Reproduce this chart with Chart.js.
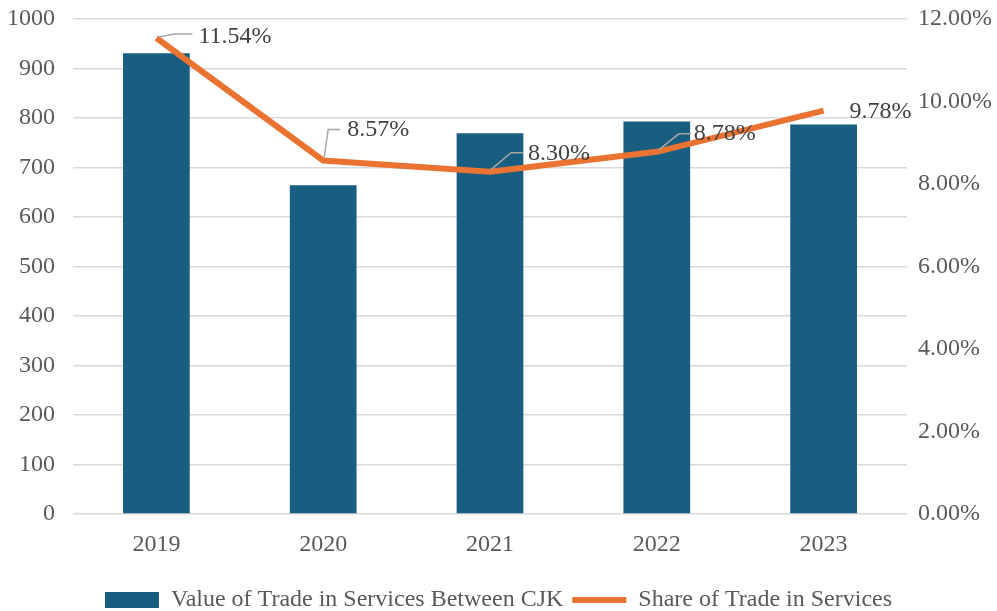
<!DOCTYPE html>
<html>
<head>
<meta charset="utf-8">
<script src="https://cdn.jsdelivr.net/npm/chart.js@4"></script>
<style>
  html, body { margin: 0; padding: 0; background: #fff; }
  #wrap { width: 997px; height: 611px; }
</style>
</head>
<body>
<div id="wrap"><canvas id="tradeChart"></canvas></div>
<script>
// Trade in services between China, Japan and Korea
const years = ["2019", "2020", "2021", "2022", "2023"];
const tradeValue = [931, 664, 769, 793, 787];
const tradeShare = [11.54, 8.57, 8.30, 8.78, 9.78];
const leftTicks = [0, 100, 200, 300, 400, 500, 600, 700, 800, 900, 1000];
const rightTicks = [0, 2, 4, 6, 8, 10, 12];

const serif = "'Liberation Serif', 'Times New Roman', serif";
const textGrey = '#595959';

// where each share label sits relative to its point, plus its leader line
const labelSpots = [
    { dx: 42, dy: -1, leader: [[2, -1], [18, -4], [36, -4]] },
    { dx: 24, dy: -31, leader: [[1, -3], [5, -31], [17, -31]] },
    { dx: 38, dy: -18, leader: [[1, -2], [21, -19], [33, -19]] },
    { dx: 37, dy: -18, leader: [[2, -2], [22, -18], [34, -18]] },
    { dx: 26, dy: 1, leader: null }
];

const shareLabels = {
    id: 'shareLabels',
    afterDatasetsDraw(chart) {
        const ctx = chart.ctx;
        const meta = chart.getDatasetMeta(1);
        ctx.save();
        meta.data.forEach((pt, i) => {
            const spot = labelSpots[i];
            if (spot.leader) {
                ctx.beginPath();
                spot.leader.forEach(([lx, ly], j) => {
                    if (j === 0) ctx.moveTo(pt.x + lx, pt.y + ly);
                    else ctx.lineTo(pt.x + lx, pt.y + ly);
                });
                ctx.strokeStyle = '#a6a6a6';
                ctx.lineWidth = 1.5;
                ctx.stroke();
            }
            ctx.font = '24px ' + serif;
            ctx.fillStyle = '#404040';
            ctx.textAlign = 'left';
            ctx.textBaseline = 'middle';
            ctx.fillText(tradeShare[i].toFixed(2) + '%', pt.x + spot.dx, pt.y + spot.dy);
        });
        ctx.restore();
    }
};

// vertical axes: fixed width, no extra room reserved for the end labels
const fitSide = width => axis => {
    axis.width = width;
    axis.paddingTop = 0;
    axis.paddingBottom = 0;
};

new Chart(document.getElementById('tradeChart'), {
    data: {
        labels: years,
        datasets: [{
            type: 'bar',
            label: 'Value of Trade in Services Between CJK',
            data: tradeValue,
            backgroundColor: '#175e80',
            borderWidth: 0,
            categoryPercentage: 1,
            barPercentage: 0.4,
            pointStyle: 'rect',
            yAxisID: 'y',
            order: 1
        }, {
            type: 'line',
            label: 'Share of Trade in Services',
            data: tradeShare,
            borderColor: '#ea7331',
            backgroundColor: '#ea7331',
            borderWidth: 6,
            pointRadius: 0,
            pointStyle: 'line',
            tension: 0,
            yAxisID: 'y1',
            order: 0
        }]
    },
    options: {
        responsive: true,
        maintainAspectRatio: false,
        animation: false,
        layout: { padding: { top: 19, bottom: -11, left: 0, right: 0 } },
        plugins: {
            legend: {
                display: true,
                position: 'bottom',
                labels: {
                    usePointStyle: true,
                    pointStyleWidth: 54,
                    boxHeight: 16,
                    padding: 9,
                    color: textGrey,
                    font: { family: serif, size: 24 },
                    sort: (a, b) => a.datasetIndex - b.datasetIndex
                }
            },
            tooltip: { enabled: false }
        },
        scales: {
            x: {
                afterFit: axis => { axis.height = 65; },
                grid: { display: false },
                border: { display: false },
                ticks: {
                    color: textGrey,
                    font: { family: serif, size: 24 },
                    padding: 8
                }
            },
            y: {
                position: 'left',
                min: 0,
                max: 1000,
                afterBuildTicks: axis => { axis.ticks = leftTicks.map(v => ({ value: v })); },
                afterFit: fitSide(73),
                grid: { color: '#d9d9d9', lineWidth: 1.5, drawTicks: false },
                border: { display: false },
                ticks: {
                    color: textGrey,
                    font: { family: serif, size: 24 },
                    padding: 18,
                    callback: v => String(v)
                }
            },
            y1: {
                position: 'right',
                min: 0,
                max: 12,
                afterBuildTicks: axis => { axis.ticks = rightTicks.map(v => ({ value: v })); },
                afterFit: fitSide(90),
                grid: { display: false, drawTicks: false },
                border: { display: false },
                ticks: {
                    color: textGrey,
                    font: { family: serif, size: 24 },
                    padding: 11,
                    callback: v => v.toFixed(2) + '%'
                }
            }
        }
    },
    plugins: [shareLabels]
});
</script>
</body>
</html>
